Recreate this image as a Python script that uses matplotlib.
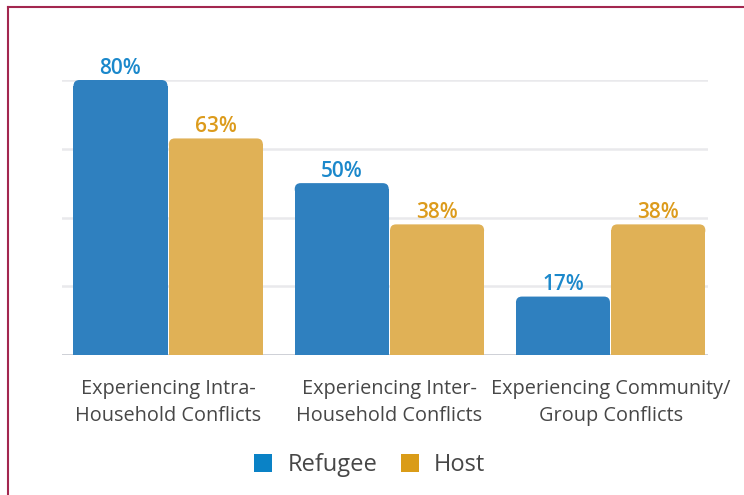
import matplotlib.pyplot as plt
import numpy as np
from matplotlib.lines import Line2D
from matplotlib.patches import FancyBboxPatch, Patch

plt.rcParams["font.family"] = ["Open Sans", "DejaVu Sans"]

categories = [
    "Experiencing Intra-\nHousehold Conflicts",
    "Experiencing Inter-\nHousehold Conflicts",
    "Experiencing Community/\nGroup Conflicts",
]
refugee = [80, 50, 17]
host = [63, 38, 38]
series_names = ["Refugee", "Host"]

bar_colors = ["#2f80bf", "#e0b156"]
label_colors = ["#1b88cb", "#dc9b1c"]
legend_colors = ["#0a82c6", "#da9c18"]
text_color = "#474747"

fig = plt.figure(figsize=(7.44, 4.95), dpi=100)
fig.patch.set_facecolor("white")
ax = fig.add_axes([0.0833, 0.2828, 0.8683, 0.5556])

x = np.arange(len(categories))
w = 0.425
gap = 0.006
x_lo, x_hi = -0.48, 2.44
y_lo, y_hi = 0, 80
ax.set_xlim(x_lo, x_hi)
ax.set_ylim(y_lo, y_hi)

# rounded top corners: radius in x units, scaled to y through mutation_aspect
bbox = ax.get_position()
px_x = (x_hi - x_lo) / (bbox.width * 744)
px_y = (y_hi - y_lo) / (bbox.height * 495)
r_px = 6
aspect = px_y / px_x

for i, vals in enumerate([refugee, host]):
    offs = (i - 0.5) * (w + gap)
    bars = ax.bar(x + offs, vals, width=w, color=bar_colors[i], zorder=3)
    for b, v in zip(bars, vals):
        bx, bw, bh = b.get_x(), b.get_width(), b.get_height()
        b.set_height(bh - r_px * px_y)
        top = FancyBboxPatch(
            (bx, bh - 2 * r_px * px_y), bw, 2 * r_px * px_y,
            boxstyle=f"round,pad=0,rounding_size={r_px * px_x}",
            mutation_aspect=aspect, facecolor=bar_colors[i],
            edgecolor="none", zorder=3,
        )
        ax.add_patch(top)
        ax.text(bx + bw / 2, v + 0.4, f"{v}%", ha="center", va="bottom",
                fontsize=15, fontweight=600, color=label_colors[i],
                clip_on=False, zorder=4)

ax.set_yticks([0, 20, 40, 60, 80])
ax.yaxis.grid(True, color="#e9e9ec", linewidth=1.8, zorder=0)
ax.tick_params(axis="y", left=False, labelleft=False)
ax.tick_params(axis="x", bottom=False, pad=14)
ax.set_xticks(x)
ax.set_xticklabels(categories, fontsize=14.3, color=text_color, linespacing=1.42)
for s in ax.spines.values():
    s.set_visible(False)
ax.axhline(0, color="#c9ccd3", linewidth=1.2, zorder=2)

handles = [Patch(facecolor=c, edgecolor="none") for c in legend_colors]
fig.legend(handles, series_names, loc="center", bbox_to_anchor=(0.497, 0.06),
           ncol=2, frameon=False, fontsize=17, handlelength=0.75,
           handleheight=0.75, handletextpad=0.65, columnspacing=1.0,
           labelcolor=text_color)

# maroon frame (top and left edges)
border = "#a3274f"
fig.add_artist(Line2D([8 / 744, 1], [1 - 7 / 495] * 2, color=border,
                      linewidth=1.5, transform=fig.transFigure))
fig.add_artist(Line2D([8 / 744] * 2, [0, 1 - 7 / 495], color=border,
                      linewidth=1.5, transform=fig.transFigure))

fig.savefig("out.png", dpi=100, facecolor="white")
